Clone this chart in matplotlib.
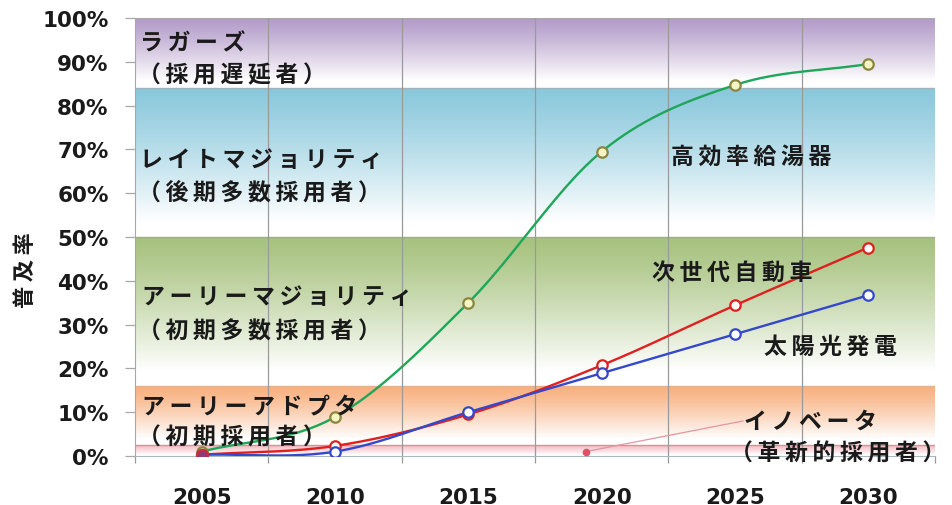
import numpy as np
import matplotlib
matplotlib.use("Agg")
import matplotlib.pyplot as plt
from matplotlib.colors import to_rgb
from matplotlib.ticker import FixedLocator

# ---- data ----
years = ["2005", "2010", "2015", "2020", "2025", "2030"]
water_heater = [1.0, 8.9, 35.0, 69.5, 84.7, 89.5]     # 高効率給湯器
next_gen_car = [0.3, 2.3, 9.5, 20.7, 34.4, 47.6]      # 次世代自動車
solar_power = [0.3, 1.0, 10.0, 18.9, 27.8, 36.7]      # 太陽光発電
y_ticks = [0, 10, 20, 30, 40, 50, 60, 70, 80, 90, 100]
y_tick_labels = ["0%", "10%", "20%", "30%", "40%", "50%", "60%", "70%", "80%", "90%", "100%"]

# adopter segments (lower %, upper %), fill colours and edge lines
band_lo = [0.0, 2.5, 16.0, 50.0, 84.0]
band_hi = [2.5, 16.0, 50.0, 84.0, 100.0]
band_colors = ["#f4bcc5", "#f8ae7c", "#a6c27e", "#8ac8dc", "#b39bc9"]
band_edge = ["#e58a98", "#e9b08a", "#9fae86", "#9fb3bb", "#a9a9a9"]

JP = ["Noto Sans CJK JP", "DejaVu Sans"]
plt.rcParams["font.family"] = JP


def spaced(s):
    return "\u2009".join(s)


def smooth(xs, ys, n=40):
    """Catmull-Rom spline through the points (Excel-style smoothed line)."""
    x = np.asarray(xs, float)
    y = np.asarray(ys, float)
    px = np.concatenate([[2 * x[0] - x[1]], x, [2 * x[-1] - x[-2]]])
    py = np.concatenate([[2 * y[0] - y[1]], y, [2 * y[-1] - y[-2]]])
    out_x, out_y = [], []
    for i in range(1, len(px) - 2):
        t = np.linspace(0, 1, n, endpoint=False)
        for p, o in ((px, out_x), (py, out_y)):
            p0, p1, p2, p3 = p[i - 1], p[i], p[i + 1], p[i + 2]
            o.extend(0.5 * (2 * p1 + (-p0 + p2) * t
                            + (2 * p0 - 5 * p1 + 4 * p2 - p3) * t ** 2
                            + (-p0 + 3 * p1 - 3 * p2 + p3) * t ** 3))
    out_x.append(x[-1])
    out_y.append(y[-1])
    return np.array(out_x), np.array(out_y)


fig = plt.figure(figsize=(9.52, 5.06), dpi=100)
ax = fig.add_axes([135 / 952, 1 - 457 / 506, 800 / 952, 438 / 506])
xpos = np.arange(len(years))
ax.set_xlim(-0.5, len(years) - 0.5)
ax.set_ylim(0, 100)

# gradient backgrounds for each adopter segment
for lo, hi, col, ec in zip(band_lo, band_hi, band_colors, band_edge):
    n = 200
    s = np.linspace(0, 1, n)[:, None]            # 0 at top, 1 at bottom
    w = np.clip(s / 0.9, 0, 1) ** 1.2
    c = np.array(to_rgb(col))
    img = (1 - w)[..., None] * c + w[..., None] * np.ones(3)
    img = np.repeat(img, 2, axis=1)
    ax.imshow(img, extent=(-0.5, len(years) - 0.5, lo, hi), origin="upper",
              aspect="auto", zorder=0, interpolation="bilinear")
    ax.axhline(hi, color=ec, lw=1.0, zorder=1)

# vertical grid at category boundaries
bounds = np.arange(len(years) + 1) - 0.5
for b in bounds[1:-1]:
    ax.axvline(b, color="#9a9a9a", lw=0.9, zorder=1)

for sp in ["top", "right"]:
    ax.spines[sp].set_visible(False)
ax.spines["left"].set_color("#a8a8a8")
ax.spines["bottom"].set_color("#a8b8c0")

# series
series = [
    (water_heater, "#1fa659", "#f3f6c4", "#8a8640"),
    (next_gen_car, "#e01f1f", "white", "#e01f1f"),
    (solar_power, "#3448cc", "white", "#3448cc"),
]
for vals, lc, fc, ec in series:
    sx, sy = smooth(xpos, vals)
    ax.plot(sx, sy, color=lc, lw=1.7, zorder=3, solid_capstyle="round")
    ax.plot(xpos, vals, ls="none", marker="o", ms=7.5, mfc=fc, mec=ec,
            mew=1.6, zorder=4)
ax.plot([xpos[0]], [next_gen_car[0]], ls="none", marker="o", ms=8,
        mfc="#8c3a78", mec="#d02a3a", mew=1.6, zorder=5)

# innovator pointer
inn_pt = (2.88, 1.0)
ax.plot([inn_pt[0], 4.06], [inn_pt[1], 8.0], color="#e495a0", lw=0.9, zorder=2)
ax.plot([inn_pt[0]], [inn_pt[1]], marker="o", ms=5.5, color="#e0506a",
        mec="none", zorder=3)

# segment labels
tkw = dict(fontsize=16.5, fontweight="bold", color="#1a1a1a", va="center",
           ha="left", zorder=6, family=JP)
ax.text(-0.46, 94.2, spaced("ラガーズ"), **tkw)
ax.text(-0.48, 87.0, spaced("（採用遅延者）"), **tkw)
ax.text(-0.46, 67.6, spaced("レイトマジョリティ"), **tkw)
ax.text(-0.48, 60.3, spaced("（後期多数採用者）"), **tkw)
ax.text(-0.45, 36.4, spaced("アーリーマジョリティ"), **tkw)
ax.text(-0.48, 28.5, spaced("（初期多数採用者）"), **tkw)
ax.text(-0.45, 11.3, spaced("アーリーアドプタ"), **tkw)
ax.text(-0.48, 4.3, spaced("（初期採用者）"), **tkw)
ax.text(4.07, 7.9, spaced("イノベータ"), **tkw)
ax.text(3.96, 0.6, spaced("（革新的採用者）"), **tkw)

# series labels
ax.text(3.52, 68.5, spaced("高効率給湯器"), **tkw)
ax.text(3.38, 41.9, spaced("次世代自動車"), **tkw)
ax.text(4.22, 25.1, spaced("太陽光発電"), **tkw)

# axes ticks
ax.set_yticks(y_ticks)
ax.set_yticklabels(y_tick_labels, family="DejaVu Sans", fontweight="bold",
                   fontsize=15.5, color="#1a1a1a")
ax.tick_params(axis="y", length=7, width=0.9, color="#a8a8a8", pad=12)

ax.set_xticks(xpos)
ax.set_xticklabels(years, family="DejaVu Sans", fontweight="bold",
                   fontsize=15.5, color="#1a1a1a")
ax.tick_params(axis="x", which="major", length=0, pad=22)
ax.xaxis.set_minor_locator(FixedLocator(bounds))
ax.tick_params(axis="x", which="minor", length=5, width=0.9, color="#9a9a9a")

ax.set_ylabel(spaced("普及率"), family=JP, fontweight="bold", fontsize=16,
              color="#1a1a1a")
ax.yaxis.set_label_coords(-0.123, 0.427)

fig.savefig("out.png", dpi=100)
